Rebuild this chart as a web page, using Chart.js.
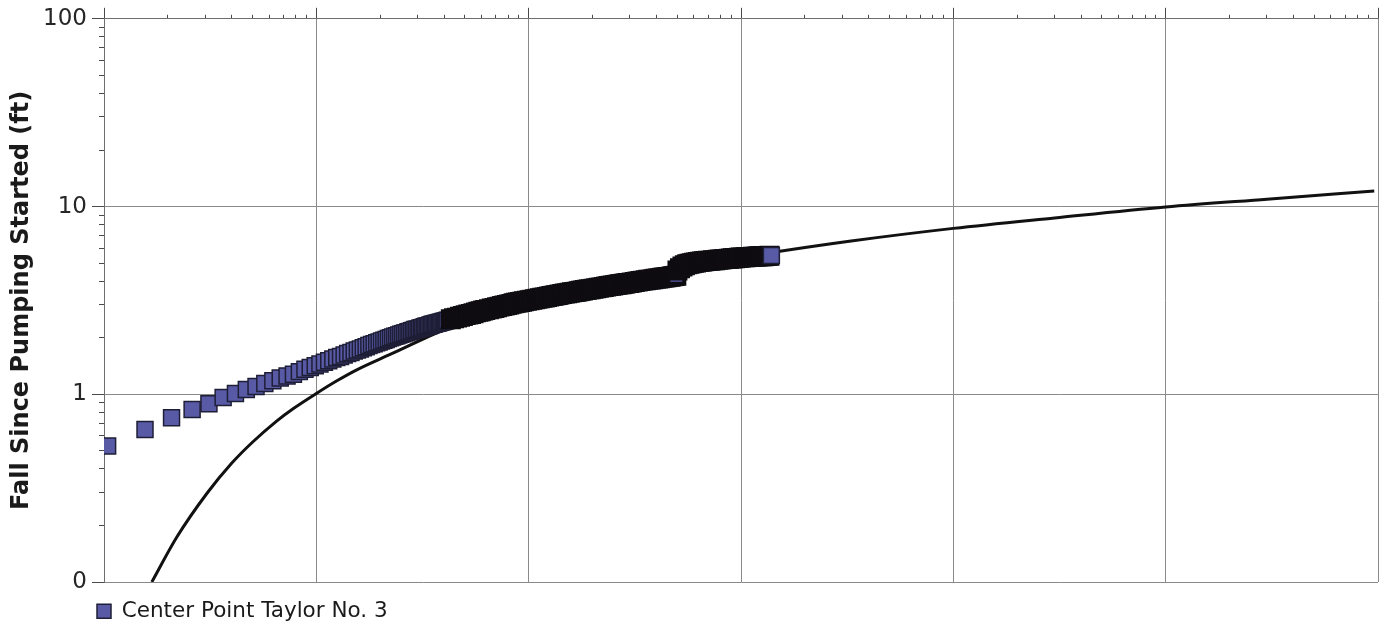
<!DOCTYPE html>
<html>
<head>
<meta charset="utf-8">
<title>Center Point Taylor No. 3</title>
<script src="https://cdn.jsdelivr.net/npm/chart.js@4.4.1/dist/chart.umd.min.js"></script>
<style>
  html, body { margin: 0; padding: 0; background: #fff; }
  #wrap { width: 1384px; height: 626px; }
</style>
</head>
<body>
<div id="wrap"><canvas id="chart" width="1384" height="626"></canvas></div>
<script>
// Observed readings: time since pumping started and fall (ft)
const obsTime = [
  1.04, 1.56, 2.08, 2.6, 3.12, 3.64, 4.16, 4.68, 5.2, 5.72, 6.24, 6.76, 7.28, 7.8,
  8.32, 8.84, 9.36, 9.88, 10.4, 10.92, 11.44, 11.96, 12.48, 13, 13.52, 14.04, 14.56, 15.08, 15.6,
  16.12, 16.64, 17.16, 17.68, 18.2, 18.72, 19.24, 19.76, 20.28, 20.8, 21.32, 21.84, 22.36, 22.88,
  23.4, 23.92, 24.44, 24.96, 25.48, 26, 26.52, 27.04, 27.56, 28.08, 28.6, 29.12, 29.64, 30.16,
  30.68, 31.2, 31.72, 32.24, 32.76, 33.28, 33.8, 34.32, 34.84, 35.36, 35.88, 36.4, 36.92, 37.44,
  37.96, 38.48, 39, 39.52, 40.04, 40.56, 41.08, 41.6,
  43, 44.5, 46, 47.5, 49, 50.5, 52, 53.5, 55, 56.5, 58, 59.5, 61, 62.5,
  65, 67, 69, 71, 73, 75, 77, 79, 81, 83, 85, 87, 89, 91, 93, 95,
  98, 101, 104, 107, 110, 113, 116, 119, 122, 125, 128, 131, 134, 137, 140,
  144, 148, 152, 156, 160, 164, 168, 172, 176, 180, 184, 188, 192, 196,
  202, 208, 214, 220, 226, 232, 238, 244, 250, 256, 262, 268, 274, 280, 286, 292, 298,
  306, 316, 326, 336, 346, 356, 366, 376, 386, 396, 406, 416, 426, 436, 446, 456, 466, 476, 486, 496,
  502, 516, 530, 544, 558, 572, 586, 600, 614, 628, 642, 656, 670, 684, 698,
  718, 738, 758, 778, 798, 818, 838, 858, 878, 898, 918, 938, 958, 978, 998,
  1026, 1054, 1082, 1110, 1138, 1166, 1194, 1222, 1250, 1278, 1306, 1334, 1362, 1390
];
const obsFall = [
  0.53, 0.65, 0.75, 0.83, 0.89, 0.96, 1.01, 1.06, 1.10, 1.14, 1.18, 1.22, 1.25, 1.28,
  1.32, 1.36, 1.39, 1.42, 1.45, 1.48, 1.51, 1.54, 1.57, 1.59, 1.62, 1.65, 1.67, 1.70, 1.72,
  1.74, 1.77, 1.79, 1.82, 1.84, 1.86, 1.88, 1.90, 1.92, 1.94, 1.96, 1.98, 2.00, 2.02,
  2.04, 2.05, 2.07, 2.09, 2.10, 2.12, 2.13, 2.15, 2.16, 2.18, 2.19, 2.21, 2.22, 2.23,
  2.25, 2.26, 2.27, 2.29, 2.30, 2.31, 2.32, 2.34, 2.35, 2.36, 2.37, 2.38, 2.39, 2.40,
  2.41, 2.42, 2.43, 2.44, 2.45, 2.46, 2.47, 2.48,
  2.51, 2.54, 2.56, 2.59, 2.61, 2.64, 2.66, 2.68, 2.70, 2.73, 2.75, 2.77, 2.79, 2.81,
  2.84, 2.86, 2.88, 2.91, 2.93, 2.95, 2.97, 2.99, 3.01, 3.03, 3.05, 3.07, 3.08, 3.10, 3.11, 3.13,
  3.15, 3.17, 3.19, 3.21, 3.23, 3.25, 3.27, 3.28, 3.30, 3.32, 3.34, 3.35, 3.37, 3.38, 3.40,
  3.42, 3.44, 3.45, 3.47, 3.49, 3.51, 3.52, 3.54, 3.56, 3.57, 3.59, 3.60, 3.62, 3.63,
  3.65, 3.67, 3.69, 3.71, 3.73, 3.75, 3.77, 3.78, 3.80, 3.82, 3.83, 3.85, 3.86, 3.88, 3.89, 3.91, 3.92,
  3.94, 3.96, 3.99, 4.01, 4.03, 4.05, 4.07, 4.08, 4.10, 4.12, 4.14, 4.15, 4.17, 4.19, 4.20, 4.22, 4.23, 4.25, 4.26, 4.28,
  4.56, 4.69, 4.79, 4.86, 4.92, 4.96, 4.99, 5.02, 5.04, 5.06, 5.08, 5.10, 5.11, 5.13, 5.14,
  5.15, 5.17, 5.18, 5.20, 5.22, 5.23, 5.25, 5.26, 5.27, 5.29, 5.30, 5.31, 5.32, 5.34, 5.35,
  5.36, 5.37, 5.38, 5.39, 5.40, 5.41, 5.42, 5.43, 5.43, 5.44, 5.45, 5.46, 5.47, 5.48
];

// Type curve drawn through the readings
const curveTime = [1.68, 2.2, 3.05, 4, 5, 6.5, 7.8, 10, 12.5, 15.5, 22, 40, 100, 300, 1000,
  3300, 10000, 30000, 100000, 300000, 960000];
const curveFall = [0.1, 0.173, 0.296, 0.43, 0.555, 0.72, 0.84, 1.01, 1.18, 1.35, 1.62, 2.2, 3.05, 4.15, 5.35,
  6.55, 7.65, 8.7, 9.95, 10.95, 12.1];

const xDecades = [1, 10, 100, 1000, 10000, 100000, 1000000];
const yDecades = [0.1, 1, 10, 100];
const yTickLabels = ['0', '1', '10', '100'];
const minorSteps = [2, 3, 4, 5, 6, 7, 8, 9];

// readings taken after this time sit closer together than the marker outline
const denseAfter = 42;

function logTicks(decades) {
    const out = [];
    decades.forEach((d, i) => {
        out.push(d);
        if (i < decades.length - 1) minorSteps.forEach(m => out.push(d * m));
    });
    return out;
}
const xTicks = logTicks(xDecades);
const yTicks = logTicks(yDecades);

function isDecade(v) {
    const l = Math.log10(v);
    return Math.abs(l - Math.round(l)) < 1e-6;
}

function isDense(c) {
    const i = c.dataIndex;
    return i !== undefined && obsTime[i] > denseAfter && i < obsTime.length - 1;
}

const gridGray = '#8a8a8a';
const tickGray = '#4a4a4a';

const legendNudge = {
    id: 'legendNudge',
    afterLayout(chart) {
        chart.legend.left += 84.5;
        chart.legend.top += 6;
    }
};

const ctx = document.getElementById('chart').getContext('2d');
new Chart(ctx, {
    type: 'scatter',
    data: {
        datasets: [
            {
                label: 'Center Point Taylor No. 3',
                data: obsTime.map((t, i) => ({ x: t, y: obsFall[i] })),
                showLine: false,
                pointStyle: 'rect',
                pointRadius: 11.3,
                backgroundColor: '#585aa5',
                borderColor: '#2a2a4a',
                borderWidth: 1,
                pointBackgroundColor: '#585aa5',
                pointBorderColor: (c) => isDense(c) ? '#0e0c10' : '#1e1e36',
                pointBorderWidth: (c) => isDense(c) ? 4 : 1.5,
                order: 0
            },
            {
                label: 'Type curve',
                data: curveTime.map((t, i) => ({ x: t, y: curveFall[i] })),
                showLine: true,
                borderColor: '#111111',
                borderWidth: 3,
                pointRadius: 0,
                cubicInterpolationMode: 'monotone',
                order: 1
            }
        ]
    },
    options: {
        responsive: false,
        animation: false,
        devicePixelRatio: 1,
        layout: { autoPadding: false, padding: { left: 0, right: 6, top: 0, bottom: 0 } },
        scales: {
            x: {
                type: 'logarithmic',
                position: 'top',
                min: 1,
                max: 1000000,
                afterFit: (s) => { s.height = 16; },
                afterBuildTicks: (s) => { s.ticks = xTicks.map(v => ({ value: v })); },
                ticks: { display: false },
                grid: {
                    color: (c) => isDecade(c.tick.value) ? gridGray : 'rgba(0,0,0,0)',
                    tickColor: tickGray,
                    tickLength: 11,
                    tickBorderDash: (c) => isDecade(c.tick.value) ? [] : [4, 7],
                    tickBorderDashOffset: (c) => isDecade(c.tick.value) ? 0 : 4
                },
                border: { color: '#6e6e6e' }
            },
            y: {
                type: 'logarithmic',
                min: 0.1,
                max: 100,
                afterFit: (s) => { s.width = 104; },
                afterBuildTicks: (s) => { s.ticks = yTicks.map(v => ({ value: v })); },
                ticks: {
                    autoSkip: false,
                    padding: 5,
                    color: '#262626',
                    font: { family: 'DejaVu Sans', size: 23 },
                    callback: (v) => {
                        const k = yDecades.findIndex(d => Math.abs(d - v) < d * 1e-6);
                        return k >= 0 ? yTickLabels[k] : '';
                    }
                },
                grid: {
                    color: (c) => isDecade(c.tick.value) ? gridGray : 'rgba(0,0,0,0)',
                    tickColor: tickGray,
                    tickLength: 12,
                    tickBorderDash: (c) => isDecade(c.tick.value) ? [] : [5, 7],
                    tickBorderDashOffset: (c) => isDecade(c.tick.value) ? 0 : 5
                },
                border: { color: '#6e6e6e' },
                title: {
                    display: true,
                    text: 'Fall Since Pumping Started (ft)',
                    color: '#1a1a1a',
                    font: { family: 'DejaVu Sans', size: 24, weight: 'bold' },
                    padding: { top: 7, bottom: 0 }
                }
            }
        },
        plugins: {
            tooltip: { enabled: false },
            legend: {
                position: 'bottom',
                align: 'start',
                labels: {
                    boxWidth: 14,
                    boxHeight: 14,
                    padding: 12.5,
                    color: '#1a1a1a',
                    font: { family: 'DejaVu Sans', size: 21.5 },
                    filter: (item) => item.datasetIndex === 0
                }
            }
        }
    },
    plugins: [legendNudge]
});
</script>
</body>
</html>
